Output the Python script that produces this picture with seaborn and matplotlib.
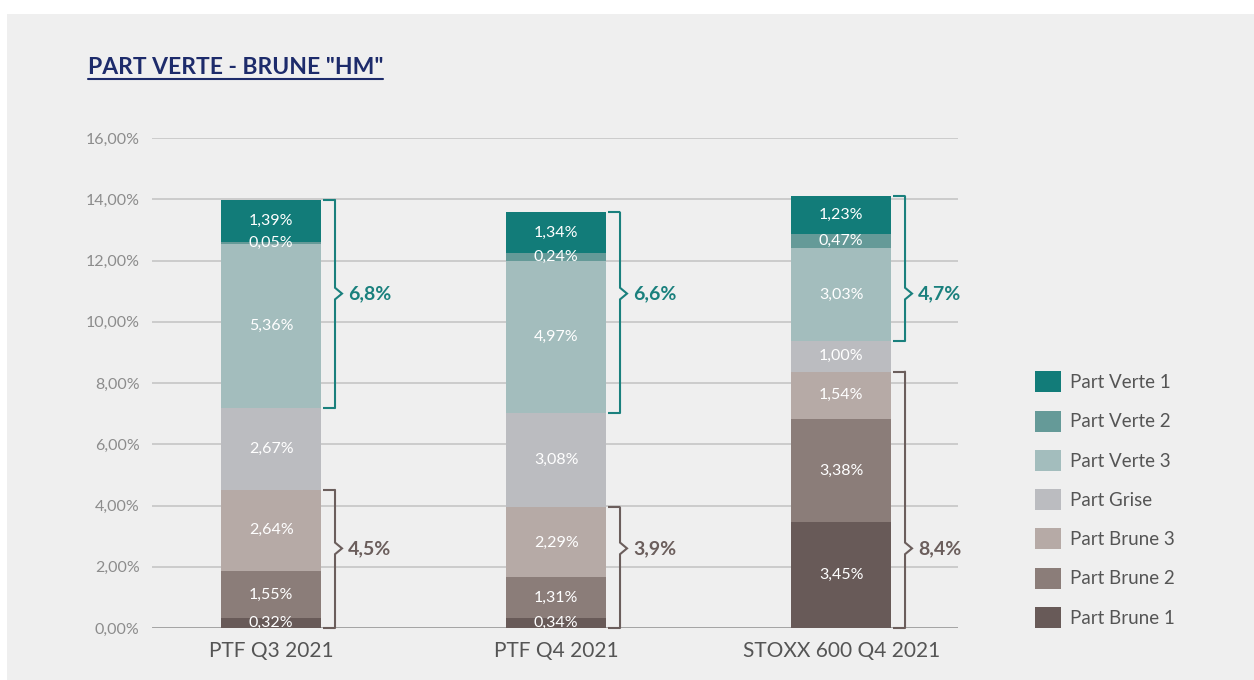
import matplotlib
matplotlib.use("Agg")
import matplotlib.pyplot as plt
from matplotlib.patches import Rectangle, Patch
from matplotlib.lines import Line2D
from matplotlib.ticker import FuncFormatter
import seaborn as sns
import numpy as np

sns.set_style("white")
plt.rcParams['font.family'] = ['Lato', 'DejaVu Sans']

# ---------------- data ----------------
categories = ["PTF Q3 2021", "PTF Q4 2021", "STOXX 600 Q4 2021"]
series_names = ["Part Brune 1", "Part Brune 2", "Part Brune 3", "Part Grise",
                "Part Verte 3", "Part Verte 2", "Part Verte 1"]
brune1 = [0.32, 0.34, 3.45]
brune2 = [1.55, 1.31, 3.38]
brune3 = [2.64, 2.29, 1.54]
grise = [2.67, 3.08, 1.00]
verte3 = [5.36, 4.97, 3.03]
verte2 = [0.05, 0.24, 0.47]
verte1 = [1.39, 1.34, 1.23]
green_totals = [6.8, 6.6, 4.7]
brown_totals = [4.5, 3.9, 8.4]
yticks = [0, 2, 4, 6, 8, 10, 12, 14, 16]

colors = ["#685a58", "#8b7d79", "#b6aaa6", "#bbbcc0", "#a3bdbd", "#659a98", "#127c79"]
series = [brune1, brune2, brune3, grise, verte3, verte2, verte1]

W, H = 1254, 680
fig = plt.figure(figsize=(W / 100, H / 100), dpi=100, facecolor="white")
fig.patches.append(Rectangle((7 / W, 0), 1 - 7 / W, 1 - 14 / H, transform=fig.transFigure,
                             facecolor="#efefef", edgecolor="none", zorder=-10))

ax = fig.add_axes([152 / W, 52 / H, 806 / W, 490 / H])
ax.patch.set_visible(False)

vals = np.array(series)
cum = np.cumsum(vals, axis=0)
bar_w = 0.35
# draw cumulative heights from the top series down, so each layer covers the one above
for k in range(len(series) - 1, -1, -1):
    sns.barplot(x=categories, y=cum[k], color=colors[k], width=bar_w, saturation=1,
                linewidth=0, ax=ax, order=categories, zorder=2)

ax.set_xlim(-0.418, 2.41)
ax.set_ylim(0, 16)
ax.set_yticks(yticks)
ax.yaxis.set_major_formatter(FuncFormatter(lambda v, p: f"{v:.2f}%".replace(".", ",")))
ax.grid(axis="y", color="#c9c9c9", linewidth=1.3, zorder=0)
ax.set_axisbelow(True)
ax.axhline(0, color="#999999", linewidth=1.8, zorder=1)
for s in ax.spines.values():
    s.set_visible(False)
ax.tick_params(axis="y", length=0, pad=9, labelsize=11.5, labelcolor="#8c8c8c")
ax.tick_params(axis="x", length=0, pad=9, labelsize=15, labelcolor="#555555")
ax.set_xlabel("")
ax.set_ylabel("")

# segment labels
bottoms = cum - vals
for k in range(len(series)):
    for i in range(len(categories)):
        v = vals[k, i]
        yc = bottoms[k, i] + v / 2
        ax.text(i, yc, f"{v:.2f}%".replace(".", ","), ha="center", va="center",
                color="white", fontsize=11.5, zorder=5)

# brackets
px_x = 285.0  # pixels per x unit
def bracket(i, y0, y1, ytip, color, label):
    xe = i + bar_w / 2
    xs = xe + 2 / px_x
    xv = xe + 14 / px_x
    dx = 7 / px_x
    dy = 0.19
    ax.plot([xs, xv], [y1, y1], color=color, lw=1.5, clip_on=False, zorder=4,
            solid_capstyle="butt")
    ax.plot([xs, xv], [y0, y0], color=color, lw=1.5, clip_on=False, zorder=4,
            solid_capstyle="butt")
    ax.plot([xv, xv, xv + dx, xv, xv], [y0, ytip - dy, ytip, ytip + dy, y1], color=color,
            lw=1.5, clip_on=False, zorder=4, solid_joinstyle="miter")
    ax.text(xv + 13 / px_x, ytip, label, ha="left", va="center", color=color,
            fontsize=14, fontweight="bold", zorder=5)

green_c = "#1a807d"
brown_c = "#6b5e5c"
for i in range(len(categories)):
    top = cum[-1, i]
    gbot = cum[3, i]
    bracket(i, gbot, top, 10.92, green_c, f"{green_totals[i]:.1f}%".replace(".", ","))
    bracket(i, 0, cum[2, i], 2.6, brown_c, f"{brown_totals[i]:.1f}%".replace(".", ","))

# title with underline
title = fig.text(88 / W, 1 - 68 / H, 'PART VERTE - BRUNE "HM"', ha="left", va="center",
                 fontsize=16.5, fontweight="bold", color="#1d2b6b")
fig.canvas.draw()
bb = title.get_window_extent()
uy = 1 - 79 / H
fig.add_artist(Line2D([bb.x0 / W, bb.x1 / W], [uy, uy], transform=fig.transFigure,
                      color="#1d2b6b", lw=1.5))

# legend (top series first)
handles = [Patch(facecolor=colors[k], edgecolor="none") for k in range(len(series) - 1, -1, -1)]
labels = [series_names[k] for k in range(len(series) - 1, -1, -1)]
fig.legend(handles, labels, loc="upper left", bbox_to_anchor=(1026 / W, 1 - 362 / H),
           frameon=False, fontsize=13.5, handlelength=1.35, handleheight=1.35,
           labelspacing=0.97, handletextpad=0.5, labelcolor="#555555", borderpad=0)

fig.savefig("out.png", dpi=100, facecolor=fig.get_facecolor())
